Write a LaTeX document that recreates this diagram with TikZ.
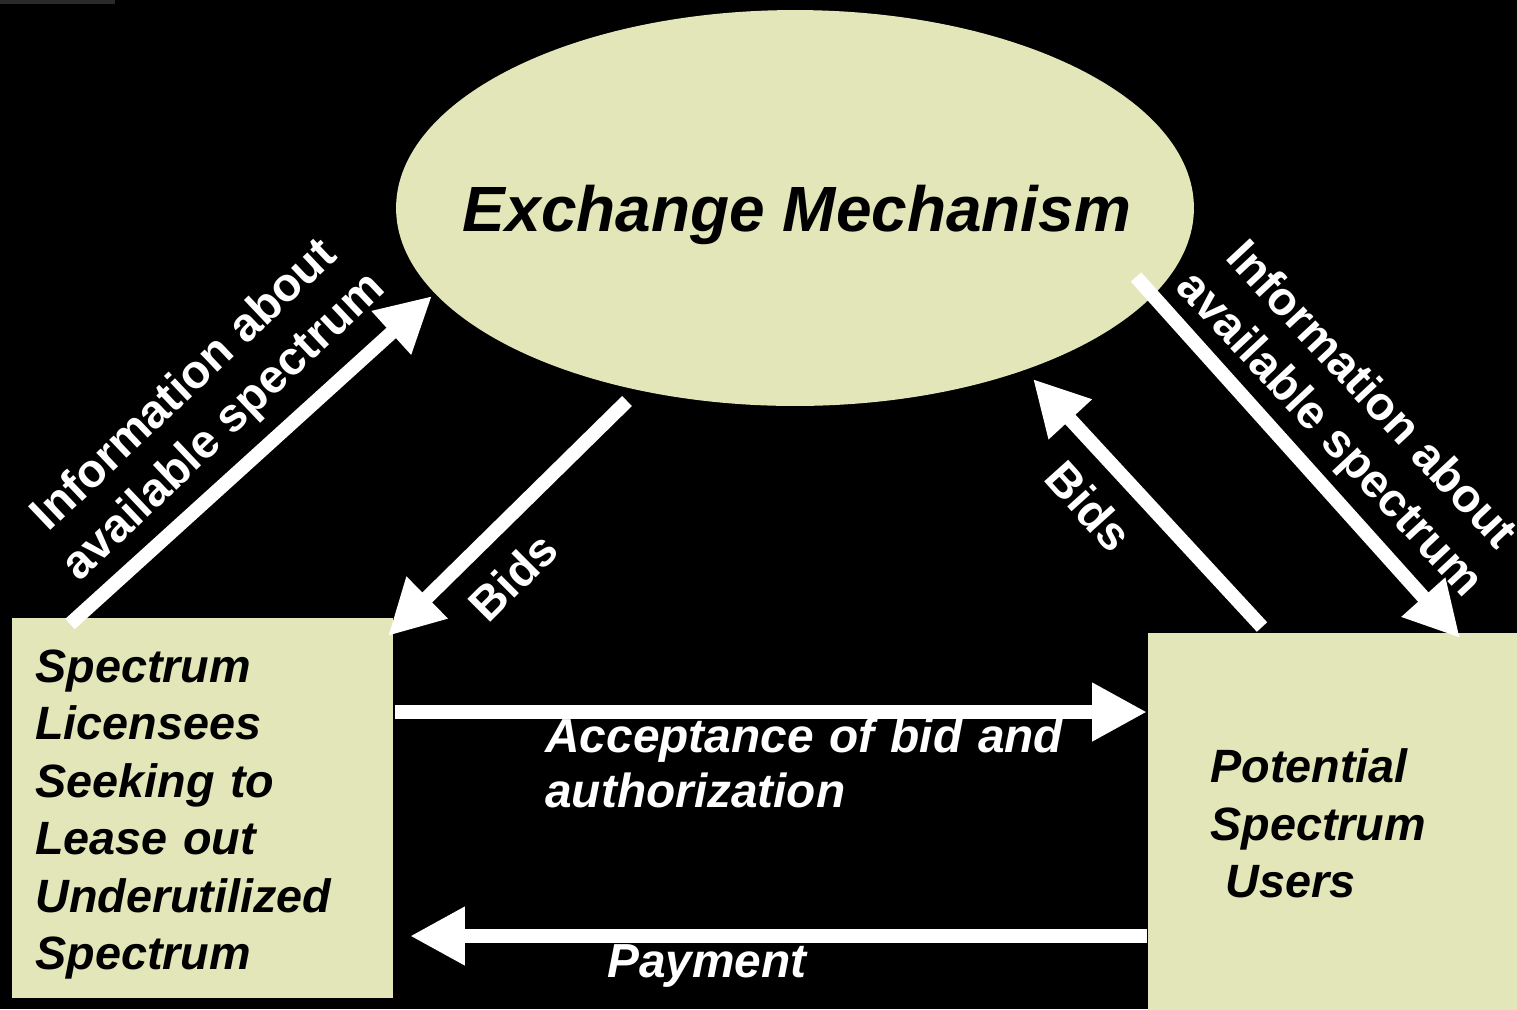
\documentclass[tikz,border=0pt]{standalone}
\usepackage{fontspec}
\setmainfont{Liberation Sans}
\usetikzlibrary{arrows.meta,shapes.geometric}
\definecolor{khaki}{RGB}{227,230,184}
\definecolor{topbar}{RGB}{42,42,42}
\begin{document}
\begin{tikzpicture}[x=0.02cm,y=-0.02cm,
  fat/.style={draw=white,line width=0.28cm,-{Triangle[length=1.1cm,width=1.1cm]}},
  boxfont/.style={font=\bfseries\itshape\fontsize{26.6}{32.65}\selectfont},
  lblfont/.style={font=\bfseries\itshape\fontsize{27.2}{31.75}\selectfont},
  diagfont/.style={font=\bfseries\fontsize{26.8}{32.3}\selectfont},
  khakibox/.style={rectangle,fill=khaki,draw=none,anchor=north west,align=left,text=black}]
\fill[black] (0,0) rectangle (1517,1009);
\useasboundingbox (0,0) rectangle (1517,1009);
\fill[topbar] (0,0) rectangle (115,4);

\node[ellipse,fill=khaki,minimum width=15.96cm,minimum height=7.92cm,inner sep=0pt]
  (ex) at (795,208) {};
\node[font=\bfseries\itshape\fontsize{36.4}{40}\selectfont,text depth=0pt,inner sep=0pt]
  (title) at (797,208) {Exchange Mechanism};

\node[khakibox,boxfont,minimum width=7.62cm,minimum height=7.6cm,inner xsep=0.46cm,
      inner ysep=0pt,text width=6.7cm]
  (lbox) at (12,618) {\rule{0pt}{0.9cm}Spectrum\\Licensees\\Seeking to\\Lease out\\Underutilized\\Spectrum};

\node[khakibox,boxfont,minimum width=7.64cm,minimum height=7.8cm,inner xsep=1.24cm,
      inner ysep=0pt,text width=5.16cm]
  (rbox) at (1148,633) {Potential\\Spectrum\\\hspace*{0.3cm}Users\rule[-0.2cm]{0pt}{0pt}};

% labels
\node[diagfont,text=white,align=center,rotate=43.5,inner sep=0pt] (linfo) at (205,407)
  {Information about\\available spectrum};
\node[diagfont,text=white,align=center,rotate=-47,inner sep=0pt] (rinfo) at (1349,416)
  {Information about\\available spectrum};
\node[diagfont,text=white,rotate=45,inner sep=0pt] (lbids) at (513,577) {Bids};
\node[diagfont,text=white,rotate=-48,inner sep=0pt] (rbids) at (1089,506) {Bids};

\node[lblfont,text=white,anchor=base west,text width=11.2cm,align=left,inner sep=0pt]
  (acc) at (545,752) {Acceptance of bid and\\authorization};
\node[lblfont,text=white,anchor=base west,inner sep=0pt] (pay) at (607,977) {Payment};

% connector end points
\coordinate (a1s) at (70,624);   \coordinate (a1e) at (432,296);
\coordinate (a2s) at (627,401);  \coordinate (a2e) at (388,636);
\coordinate (a3s) at (1262,627); \coordinate (a3e) at (1033,379);
\coordinate (a4s) at (1136,277); \coordinate (a4e) at (1460,638);
\coordinate (a5s) at (395,712);  \coordinate (a5e) at (1147,712);
\coordinate (a6s) at (1147,936); \coordinate (a6e) at (410,936);

\draw[fat] (a1s) -- (a1e);
\draw[fat] (a2s) -- (a2e);
\draw[fat] (a3s) -- (a3e);
\draw[fat] (a4s) -- (a4e);
\draw[fat] (a5s) -- (a5e);
\draw[fat] (a6s) -- (a6e);
\end{tikzpicture}
\end{document}
